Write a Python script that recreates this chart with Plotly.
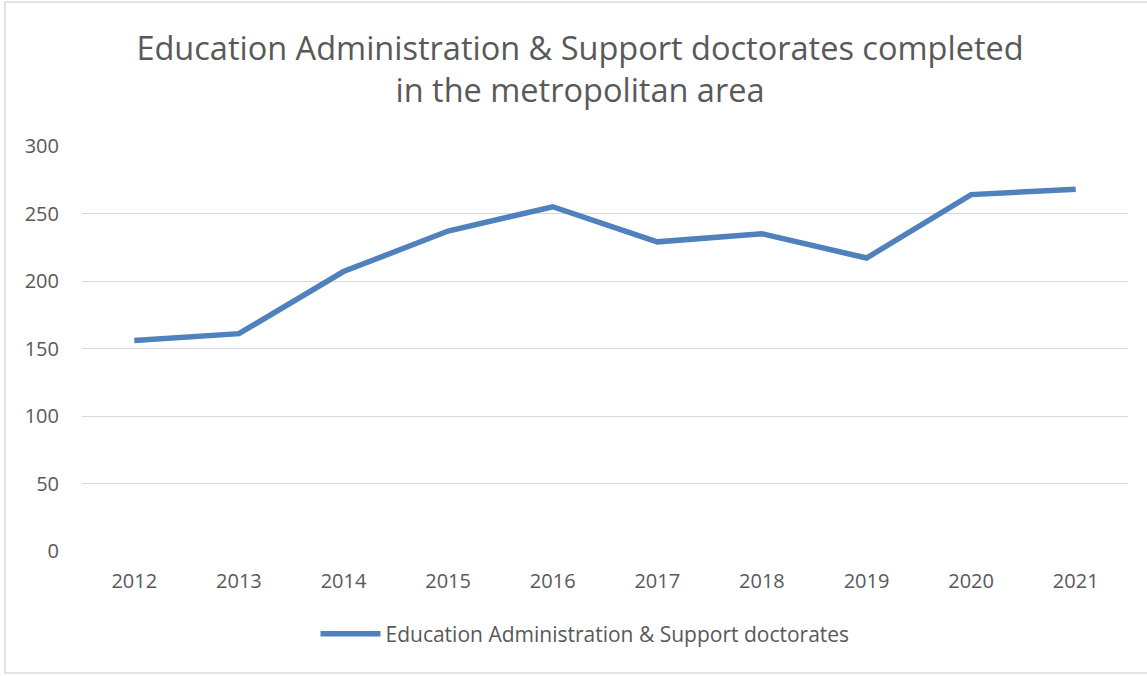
import plotly.graph_objects as go

years = ["2012", "2013", "2014", "2015", "2016", "2017", "2018", "2019", "2020", "2021"]
doctorates = [156, 161, 207, 237, 255, 229, 235, 217, 264, 268]
series_name = "Education Administration & Support doctorates"
title_text = "Education Administration & Support doctorates completed<br>in the metropolitan area"
y_ticks = [0, 50, 100, 150, 200, 250, 300]

W, H = 1147, 676
L, R, T, B = 82, 19, 146, 125
pw, ph = W - L - R, H - T - B

font_family = "Open Sans, Liberation Sans, sans-serif"
gray = "#595959"

fig = go.Figure()
fig.add_trace(go.Scatter(
    x=years, y=doctorates, mode="lines", name=series_name,
    line=dict(color="#4F81BD", width=5.5, shape="linear"),
))

def px_x(v):
    return (v - L) / pw

def px_y(v):
    return (H - B - v) / ph

fig.update_layout(
    width=W, height=H,
    margin=dict(l=L, r=R, t=T, b=B),
    paper_bgcolor="white", plot_bgcolor="white",
    font=dict(family=font_family, color=gray, size=20),
    title=dict(text=title_text, x=580 / W, xanchor="center", xref="container",
               y=1 - 60 / H, yanchor="middle",
               font=dict(size=32.5, color=gray, family=font_family)),
    xaxis=dict(type="category", range=[-0.5, 9.5], showgrid=False, showline=False,
               ticks="", tickfont=dict(size=20, color=gray), ticklabelstandoff=16),
    yaxis=dict(range=[0, 300], tickvals=y_ticks, showgrid=True, gridcolor="#D9D9D9",
               gridwidth=1.3, zeroline=False, showline=False, ticks="",
               tickfont=dict(size=20, color=gray), ticklabelstandoff=22),
    showlegend=True,
    legend=dict(orientation="h", x=px_x(585), xanchor="center", y=px_y(634), yanchor="middle",
                font=dict(size=21, color=gray), itemwidth=60),
    shapes=[dict(type="rect", xref="paper", yref="paper",
                 x0=px_x(5), x1=px_x(1160), y0=px_y(673), y1=px_y(2),
                 line=dict(color="#D9D9D9", width=1.5), fillcolor="rgba(0,0,0,0)", layer="below")],
)

fig.write_html("out.html")
